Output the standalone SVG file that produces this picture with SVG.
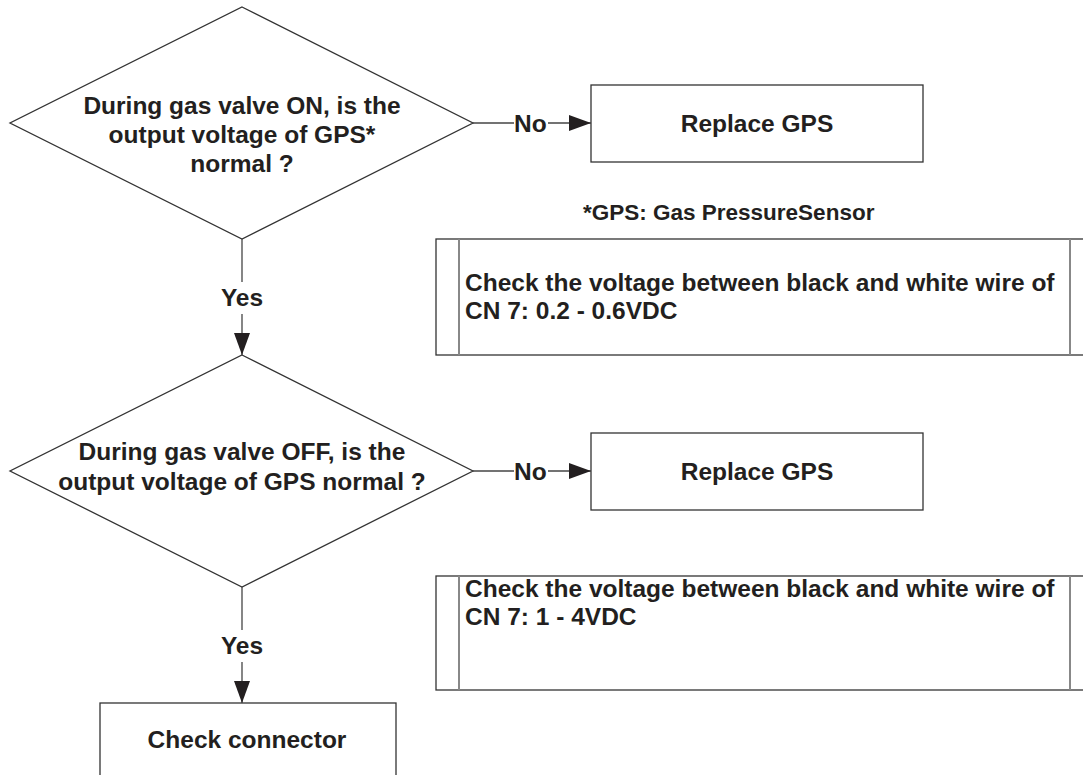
<svg xmlns="http://www.w3.org/2000/svg" width="1083" height="775" viewBox="0 0 1083 775">
<style>
text{font-family:"Liberation Sans",Arial,sans-serif;font-weight:bold;font-size:24.5px;fill:#231f20}
.c{text-anchor:middle}
.n{font-size:22.5px}
.s{fill:#fff;stroke:#333;stroke-width:1.3}
.in{stroke:#888;stroke-width:2;fill:none}
.ln{stroke:#444;stroke-width:1.3;fill:none}
</style>
<defs>
<marker id="ah" viewBox="0 0 22 16" refX="22" refY="8" markerWidth="22" markerHeight="16" markerUnits="userSpaceOnUse" orient="auto"><path d="M0,0L22,8L0,16Z" fill="#231f20"/></marker>
</defs>
<rect width="1083" height="775" fill="#fff"/>
<g id="d1"><polygon class="s" points="242,7 473,123 242,239 10,123"/>
<text class="c" x="242" y="114">During gas valve ON, is the</text>
<text class="c" x="242" y="143">output voltage of GPS*</text>
<text class="c" x="242" y="172">normal ?</text></g>
<g id="r1"><rect class="s" x="591" y="85" width="332" height="77"/>
<text class="c" x="757" y="132">Replace GPS</text></g>
<g id="note"><text class="n" x="583" y="220">*GPS: Gas PressureSensor</text></g>
<g id="c1"><rect class="s" x="436" y="239" width="660" height="116"/>
<line class="in" x1="459" y1="239" x2="459" y2="355"/><line class="in" x1="1070" y1="239" x2="1070" y2="355"/>
<text x="465" y="291">Check the voltage between black and white wire of</text>
<text x="465" y="319">CN 7: 0.2 - 0.6VDC</text></g>
<g id="d2"><polygon class="s" points="242,355 473,471 242,587 10,471"/>
<text class="c" x="242" y="460">During gas valve OFF, is the</text>
<text class="c" x="242" y="490">output voltage of GPS normal ?</text></g>
<g id="r2"><rect class="s" x="591" y="433" width="332" height="77"/>
<text class="c" x="757" y="480">Replace GPS</text></g>
<g id="c2"><rect class="s" x="436" y="576" width="660" height="114"/>
<line class="in" x1="459" y1="576" x2="459" y2="690"/><line class="in" x1="1070" y1="576" x2="1070" y2="690"/>
<text x="465" y="597">Check the voltage between black and white wire of</text>
<text x="465" y="625">CN 7: 1 - 4VDC</text></g>
<g id="cc"><rect class="s" x="100" y="703" width="296" height="90"/>
<text class="c" x="247" y="748">Check connector</text></g>
<g id="connectors">
<line class="ln" x1="473" y1="123" x2="514" y2="123"/>
<line class="ln" x1="548" y1="123" x2="591" y2="123" marker-end="url(#ah)"/>
<text x="514" y="132">No</text>
<line class="ln" x1="473" y1="471" x2="514" y2="471"/>
<line class="ln" x1="548" y1="471" x2="591" y2="471" marker-end="url(#ah)"/>
<text x="514" y="480">No</text>
<line class="ln" x1="242" y1="239" x2="242" y2="282"/>
<line class="ln" x1="242" y1="314" x2="242" y2="355" marker-end="url(#ah)"/>
<text class="c" x="242" y="306">Yes</text>
<line class="ln" x1="242" y1="587" x2="242" y2="630"/>
<line class="ln" x1="242" y1="662" x2="242" y2="703" marker-end="url(#ah)"/>
<text class="c" x="242" y="654">Yes</text>
</g>
</svg>
